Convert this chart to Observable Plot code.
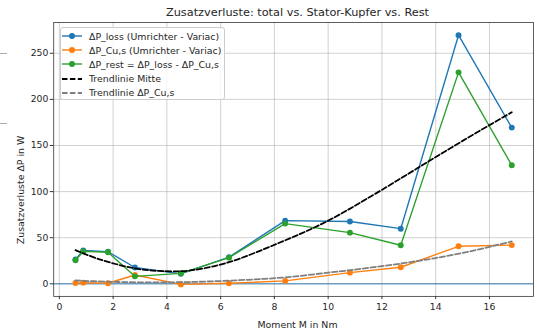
<!DOCTYPE html>
<html>
<head>
<meta charset="utf-8">
<script src="https://cdn.jsdelivr.net/npm/d3@7"></script>
<script src="https://cdn.jsdelivr.net/npm/@observablehq/plot@0.6"></script>
<style>
  html, body { margin: 0; padding: 0; background: #fff; overflow: hidden; width: 537px; height: 332px; }
  #wrap { position: relative; width: 537px; height: 332px; font-family: "DejaVu Sans", sans-serif; color: #262626; }
  #title { position: absolute; left: 54px; width: 487px; top: 5px; line-height: 16px; text-align: center; font-size: 11.3px; }
  #xlabel { position: absolute; left: 54px; width: 487px; top: 318px; line-height: 14px; text-align: center; font-size: 9.4px; }
  #ylabel { position: absolute; left: 21px; top: 190px; width: 0; height: 0; }
  #ylabel span { position: absolute; left: 0; top: 0; transform: translate(-50%, -50%) rotate(-90deg); white-space: nowrap; font-size: 9.4px; line-height: 12px; }
  #chart { position: absolute; left: 0; top: 20px; }
  .edge { position: absolute; left: 0; width: 7px; height: 1px; background: #aaaaaa; }
  #legend { position: absolute; left: 60px; top: 27px; width: 165px; height: 73px; background: rgba(255,255,255,0.8);
            border: 1px solid #cccccc; border-radius: 3px; box-sizing: border-box; padding-top: 1px; }
  .row { height: 14.2px; display: flex; align-items: center; font-size: 9.4px; white-space: nowrap; }
  .row svg { margin-left: 1px; margin-right: 7px; flex: none; }
</style>
</head>
<body>
<div id="wrap">
  <div id="chart"></div>
  <div class="edge" style="top:53px"></div>
  <div class="edge" style="top:123px"></div>
  <div id="title"></div>
  <div id="xlabel"></div>
  <div id="ylabel"><span></span></div>
  <div id="legend"></div>
</div>
<script>
// ---- data ----
const titleText = "Zusatzverluste: total vs. Stator-Kupfer vs. Rest";
const xLabel = "Moment M in Nm";
const yLabel = "Zusatzverluste ΔP in W";

const M        = [0.6, 0.89, 1.81, 2.81, 4.52, 6.31, 8.4, 10.81, 12.7, 14.85, 16.83];
const lossVals = [26.5, 36.3, 34.8, 17.7, 10.8, 29.0, 68.5, 67.6, 59.8, 269.6, 169.4];
const cuVals   = [0.9, 1.3, 0.6, 9.6, -0.6, 0.6, 3.2, 12.1, 18.0, 40.7, 42.0];
const restVals = [25.6, 35.2, 34.2, 8.1, 11.4, 28.4, 65.3, 55.5, 41.8, 229.3, 128.5];

const trendMidX = [0.6, 1.5, 2.8, 3.7, 4.8, 6.2, 8.1, 9.9, 11.6, 13.3, 15.0, 16.83];
const trendMidY = [36.5, 26.5, 16.8, 14.0, 14.3, 22.5, 43.5, 67.0, 95.0, 125.0, 155.0, 186.0];
const trendCuX  = [0.6, 1.8, 3.0, 4.3, 5.5, 7.0, 8.4, 10.0, 11.3, 12.7, 14.0, 15.4, 16.83];
const trendCuY  = [3.6, 2.3, 1.6, 1.7, 2.5, 4.4, 7.0, 12.1, 16.5, 22.0, 28.0, 36.0, 46.0];

const xTicks = [0, 2, 4, 6, 8, 10, 12, 14, 16];
const yTicks = [0, 50, 100, 150, 200, 250];

const seriesNames = ["ΔP_loss (Umrichter - Variac)", "ΔP_Cu,s (Umrichter - Variac)", "ΔP_rest = ΔP_loss - ΔP_Cu,s", "Trendlinie Mitte", "Trendlinie ΔP_Cu,s"];
const seriesColors = ["#1f77b4", "#ff7f0e", "#2ca02c", "#000000", "#7f7f7f"];

// ---- build tables ----
const rows = (xs, ys) => xs.map((x, i) => ({x, y: ys[i]}));
const loss = rows(M, lossVals), cu = rows(M, cuVals), rest = rows(M, restVals);
const tMid = rows(trendMidX, trendMidY), tCu = rows(trendCuX, trendCuY);

const dash = "5.5,2.4";
const plot = Plot.plot({
  width: 545, height: 312,
  marginLeft: 54, marginRight: 4, marginTop: 2, marginBottom: 32,
  style: {fontFamily: "DejaVu Sans", fontSize: "9.4px", color: "#262626", background: "transparent", overflow: "visible"},
  x: {domain: [-0.21, 17.64]},
  y: {domain: [-13.6, 283.4]},
  marks: [
    Plot.gridX(xTicks, {stroke: "#b0b0b0", strokeOpacity: 0.75, strokeWidth: 0.8}),
    Plot.gridY(yTicks, {stroke: "#b0b0b0", strokeOpacity: 0.75, strokeWidth: 0.8}),
    Plot.ruleY([0], {stroke: seriesColors[0], strokeWidth: 0.9}),
    Plot.line(loss, {x: "x", y: "y", stroke: seriesColors[0], strokeWidth: 1.4}),
    Plot.dot(loss, {x: "x", y: "y", fill: seriesColors[0], r: 3}),
    Plot.line(cu, {x: "x", y: "y", stroke: seriesColors[1], strokeWidth: 1.4}),
    Plot.dot(cu, {x: "x", y: "y", fill: seriesColors[1], r: 3}),
    Plot.line(rest, {x: "x", y: "y", stroke: seriesColors[2], strokeWidth: 1.4}),
    Plot.dot(rest, {x: "x", y: "y", fill: seriesColors[2], r: 3}),
    Plot.line(tMid, {x: "x", y: "y", stroke: seriesColors[3], strokeWidth: 1.8, strokeDasharray: dash, curve: "catmull-rom"}),
    Plot.line(tCu, {x: "x", y: "y", stroke: seriesColors[4], strokeWidth: 1.8, strokeDasharray: dash, curve: "catmull-rom"}),
    Plot.frame({stroke: "#333", strokeWidth: 0.8}),
    Plot.axisX({ticks: xTicks, tickSize: 3.3, tickPadding: 3.5, label: null, stroke: "#333"}),
    Plot.axisY({ticks: yTicks, tickSize: 3.5, tickPadding: 2, label: null, stroke: "#333"})
  ]
});
document.getElementById("chart").appendChild(plot);
document.getElementById("title").textContent = titleText;
document.getElementById("xlabel").textContent = xLabel;
document.querySelector("#ylabel span").textContent = yLabel;

// ---- legend ----
const legend = d3.select("#legend");
seriesNames.forEach((name, i) => {
  const row = legend.append("div").attr("class", "row");
  const s = row.append("svg").attr("width", 20).attr("height", 12);
  const ln = s.append("line").attr("x1", 0).attr("x2", 20).attr("y1", 6).attr("y2", 6)
    .attr("stroke", seriesColors[i]).attr("stroke-width", i < 3 ? 1.4 : 1.8);
  if (i < 3) s.append("circle").attr("cx", 10).attr("cy", 6).attr("r", 3).attr("fill", seriesColors[i]);
  else ln.attr("stroke-dasharray", dash);
  row.append("span").text(name);
});
</script>
</body>
</html>
